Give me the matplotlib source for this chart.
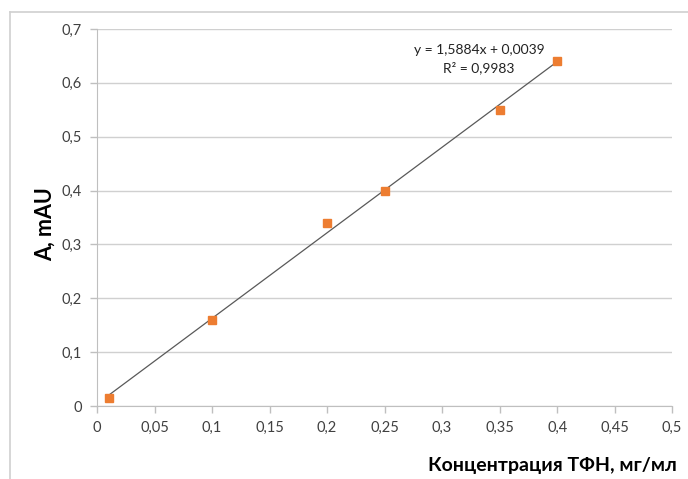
import matplotlib.pyplot as plt
from matplotlib.lines import Line2D
import numpy as np

plt.rcParams['font.family'] = ['Lato', 'DejaVu Sans']

# калибровочные данные
conc = [0.01, 0.1, 0.2, 0.25, 0.35, 0.4]
absorb = [0.015, 0.16, 0.34, 0.40, 0.55, 0.64]
slope = 1.5884
intercept = 0.0039
eq_text = 'y = 1,5884x + 0,0039\nR² = 0,9983'
x_ticks = np.arange(0, 0.501, 0.05)
y_ticks = np.arange(0, 0.701, 0.1)

fig = plt.figure(figsize=(6.88, 4.79), dpi=100)
ax = fig.add_axes([0.141, 0.1524, 0.836, 0.7871])

# линия тренда
xl = np.array([conc[0], conc[-1]])
ax.plot(xl, slope * xl + intercept, color='#595959', lw=0.9, zorder=2)
ax.plot(conc, absorb, 's', color='#ED7D31', markersize=6, zorder=3)

ax.set_xlim(0, 0.5)
ax.set_ylim(0, 0.7)
ax.set_xticks(x_ticks)
ax.set_yticks(y_ticks)
fmt = lambda v: ('%g' % round(v, 2)).replace('.', ',')
ax.set_xticklabels([fmt(v) for v in x_ticks])
ax.set_yticklabels([fmt(v) for v in y_ticks])
ax.tick_params(colors='#bfbfbf', labelcolor='#404040', labelsize=10.5, length=5, width=1)
ax.tick_params(axis='x', pad=6)
ax.tick_params(axis='y', pad=6)

ax.grid(axis='y', color='#d0d0d0', lw=1)
ax.set_axisbelow(True)
for s in ['top', 'right']:
    ax.spines[s].set_visible(False)
for s in ['left', 'bottom']:
    ax.spines[s].set_color('#bfbfbf')

ax.text(0.389, 0.672, eq_text, ha='right', va='top', fontsize=10,
        color='#222222', multialignment='center', linespacing=1.45)

fig.text(0.066, 0.532, 'A, mAU', rotation=90, ha='center', va='center',
         fontsize=15.5, fontweight='bold')
fig.text(0.983, 0.028, 'Концентрация ТФН, мг/мл', ha='right', va='center',
         fontsize=14, fontweight='bold')

# рамка области диаграммы
fig.add_artist(Line2D([0.0145, 0.0145], [0, 0.975], color='#d0d0d0', lw=1.2))
fig.add_artist(Line2D([0.0145, 1], [0.975, 0.975], color='#d0d0d0', lw=1.2))

fig.savefig('out.png', dpi=100)
